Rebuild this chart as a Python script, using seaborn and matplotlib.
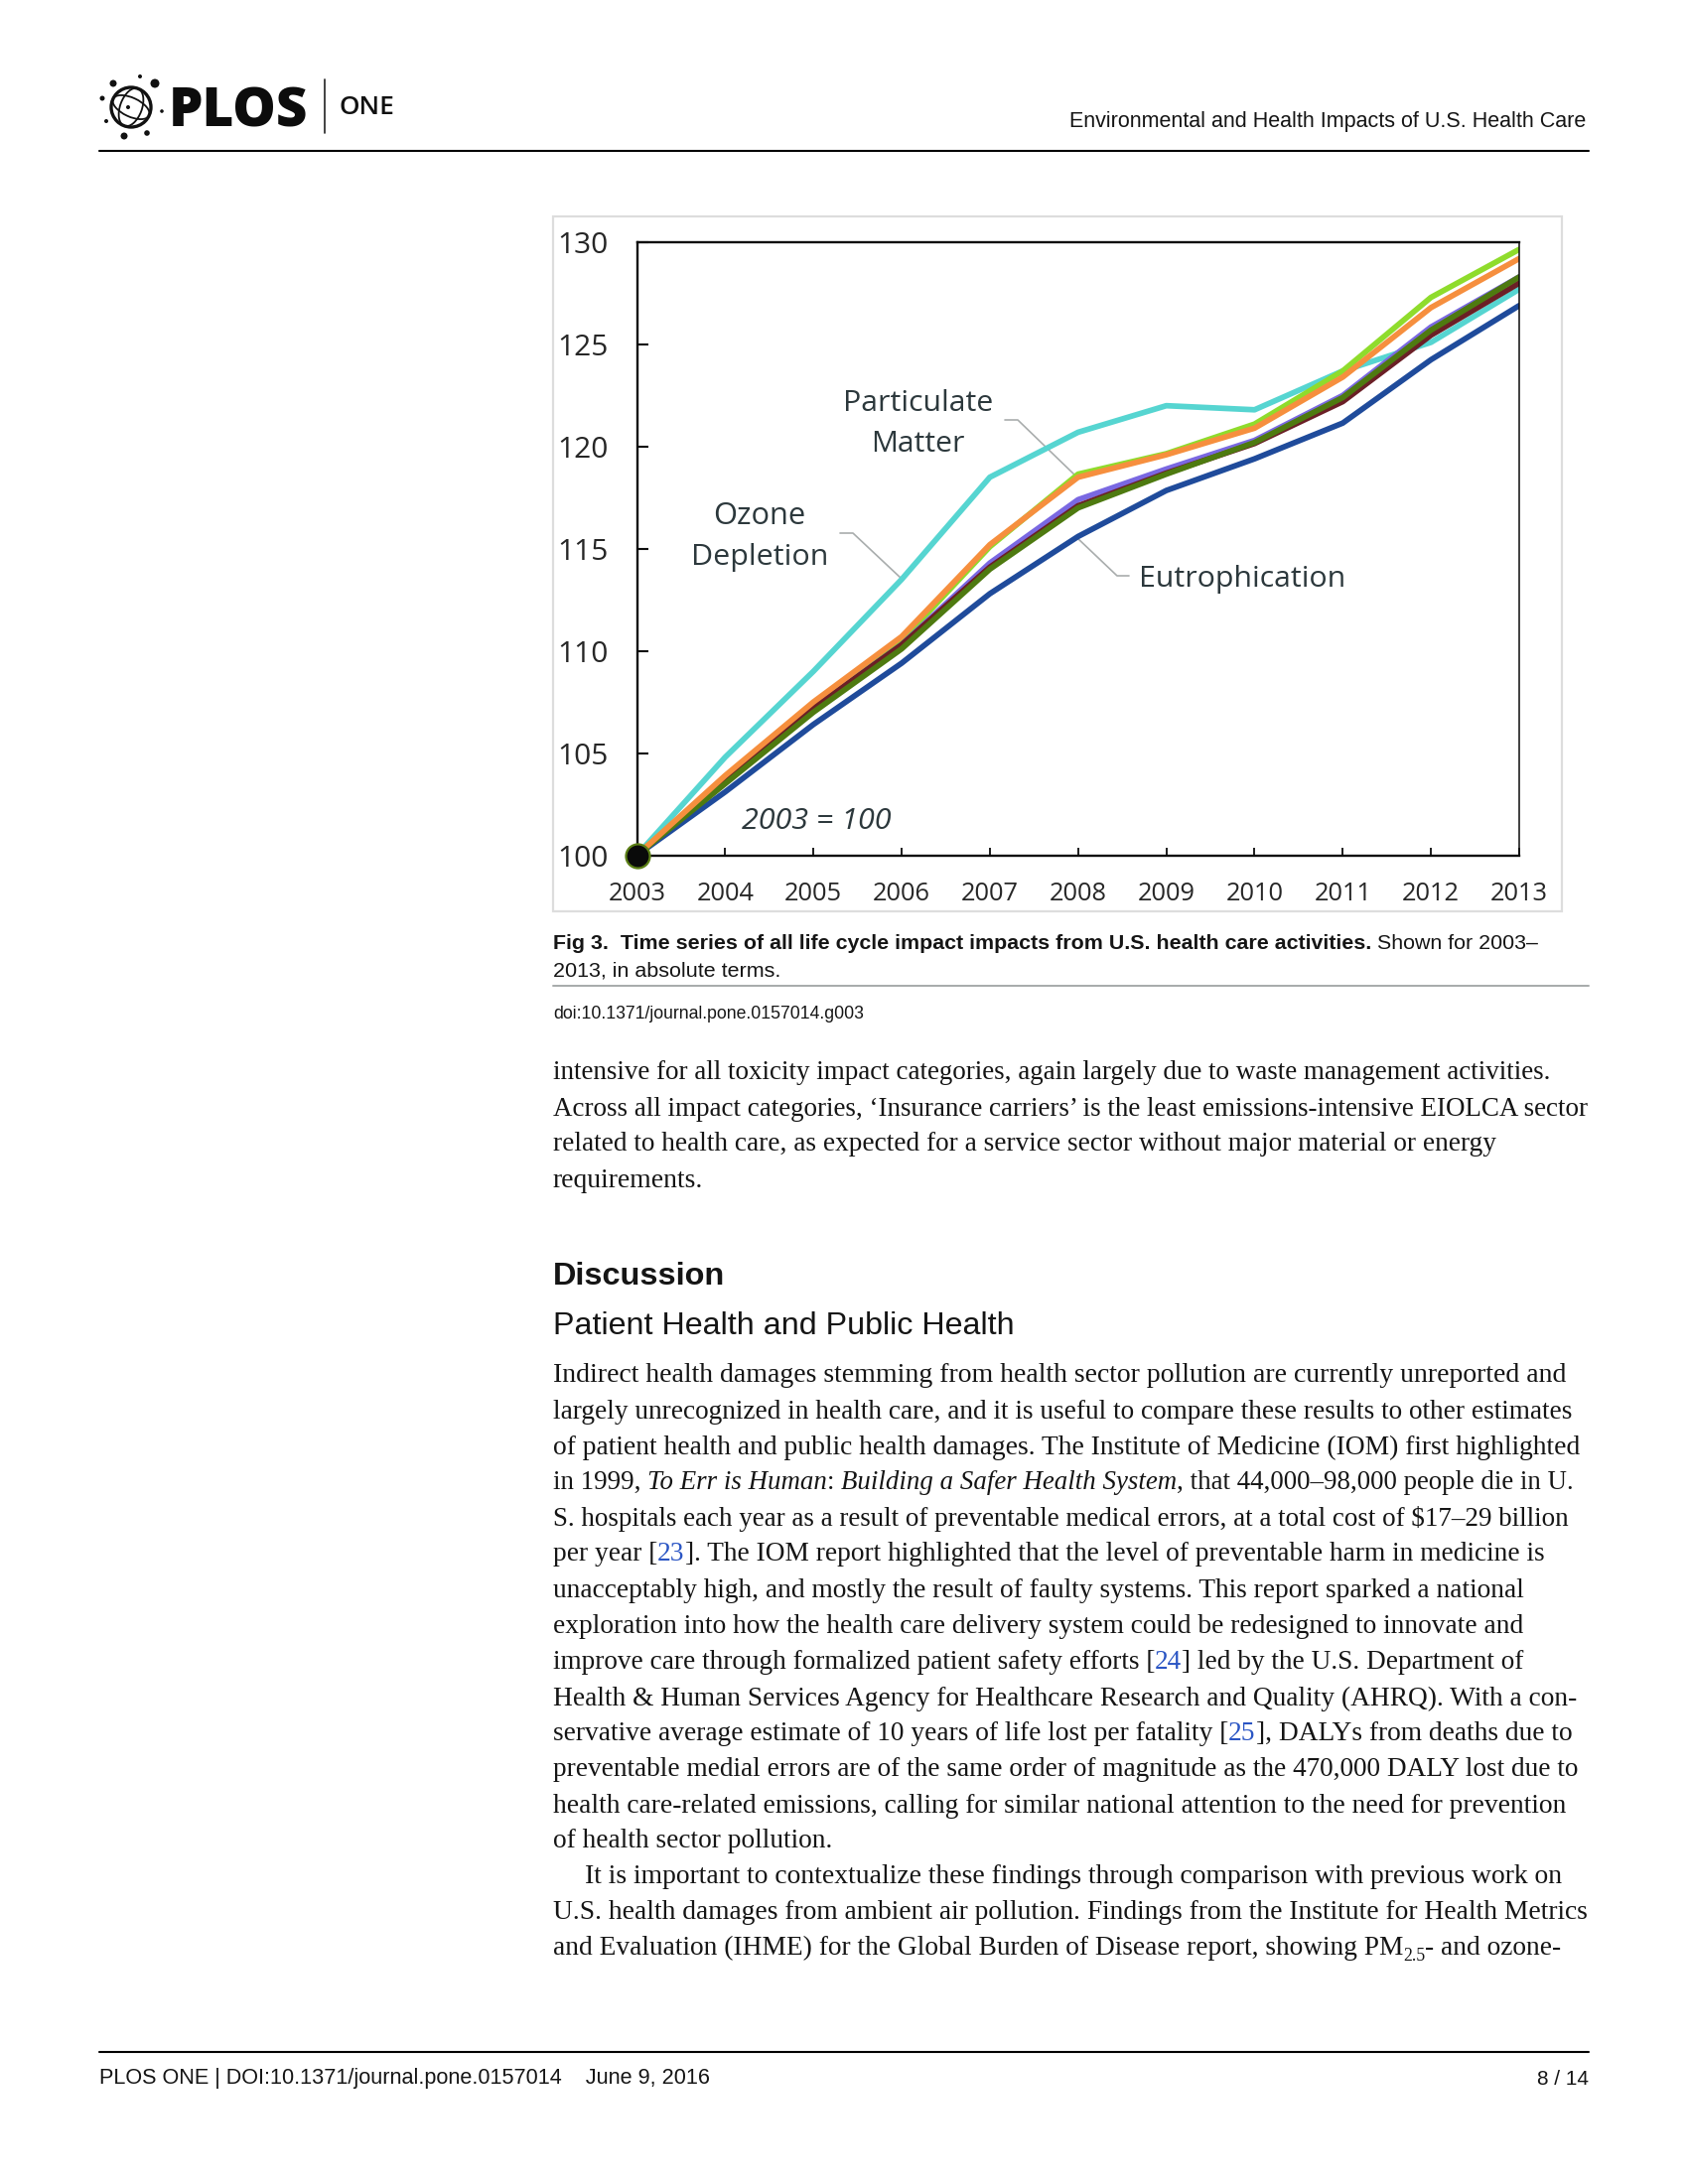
"""
PLOS ONE page 8: Fig 3 time series of life cycle impacts, with the page text around it.
"""

import matplotlib
matplotlib.use("Agg")
import matplotlib.pyplot as plt
import pandas as pd
import seaborn as sns
from matplotlib.patches import Circle, Ellipse, Rectangle

years = [2003, 2004, 2005, 2006, 2007, 2008, 2009, 2010, 2011, 2012, 2013]

ozone = [100, 104.8, 109.0, 113.5, 118.5, 120.7, 122.0, 121.8, 123.7, 125.1, 127.7]
smog = [100, 103.8, 107.4, 110.5, 115.1, 118.65, 119.65, 121.1, 123.7, 127.3, 129.65]
purple_series = [100, 103.6, 107.2, 110.3, 114.3, 117.4, 118.9, 120.3, 122.5, 125.85, 128.3]
maroon_series = [100, 103.6, 107.2, 110.3, 114.1, 117.1, 118.7, 120.15, 122.2, 125.45, 128.0]
eutrophication = [100, 103.1, 106.4, 109.4, 112.8, 115.6, 117.85, 119.4, 121.15, 124.25, 126.9]
olive_series = [100, 103.5, 107.0, 110.1, 114.0, 117.0, 118.65, 120.2, 122.4, 125.7, 128.3]
particulate = [100, 103.9, 107.5, 110.7, 115.2, 118.5, 119.6, 120.9, 123.4, 126.8, 129.2]

series = {
    "Ozone Depletion": ozone,
    "Smog": smog,
    "Purple": purple_series,
    "Maroon": maroon_series,
    "Eutrophication": eutrophication,
    "Olive": olive_series,
    "Particulate Matter": particulate,
}
palette = {
    "Ozone Depletion": "#56d5d1",
    "Smog": "#8fdc2c",
    "Purple": "#7a68e2",
    "Maroon": "#6b1f26",
    "Eutrophication": "#1f4b9b",
    "Olive": "#4e7a10",
    "Particulate Matter": "#f68f3e",
}

y_ticks = [100, 105, 110, 115, 120, 125, 130]

SERIF = "Liberation Serif"
SANS = "Liberation Sans"
CHART = "Open Sans"
BLUE = "#2a55c4"

body_top = [
    (775, 1115, 397, [("intensive for all toxicity impact categories, again largely due to waste management activities.", {})]),
    (801, 1141, 397, [("Across all impact categories, ‘Insurance carriers’ is the least emissions-intensive EIOLCA sector", {})]),
    (826.5, 1072, 397, [("related to health care, as expected for a service sector without major material or energy", {})]),
    (852.5, 505, 397, [("requirements.", {})]),
]
body_main = [
    (992.5, 1124, 397, [("Indirect health damages stemming from health sector pollution are currently unreported and", {})]),
    (1018.5, 1129, 397, [("largely unrecognized in health care, and it is useful to compare these results to other estimates", {})]),
    (1044.5, 1133, 397, [("of patient health and public health damages. The Institute of Medicine (IOM) first highlighted", {})]),
    (1069.5, 1130, 397, [("in 1999, ", {}), ("To Err is Human", {"style": "italic"}), (": ", {}),
                          ("Building a Safer Health System", {"style": "italic"}),
                          (", that 44,000–98,000 people die in U.", {})]),
    (1095.5, 1126, 397, [("S. hospitals each year as a result of preventable medical errors, at a total cost of $17–29 billion", {})]),
    (1121, 1108, 397, [("per year [", {}), ("23", {"color": BLUE}), ("]. The IOM report highlighted that the level of preventable harm in medicine is", {})]),
    (1147, 1093, 397, [("unacceptably high, and mostly the result of faulty systems. This report sparked a national", {})]),
    (1172.5, 1092, 397, [("exploration into how the health care delivery system could be redesigned to innovate and", {})]),
    (1198.5, 1094, 397, [("improve care through formalized patient safety efforts [", {}), ("24", {"color": BLUE}), ("] led by the U.S. Department of", {})]),
    (1224.5, 1130, 397, [("Health & Human Services Agency for Healthcare Research and Quality (AHRQ). With a con-", {})]),
    (1250, 1129, 397, [("servative average estimate of 10 years of life lost per fatality [", {}), ("25", {"color": BLUE}), ("], DALYs from deaths due to", {})]),
    (1275.5, 1133, 397, [("preventable medial errors are of the same order of magnitude as the 470,000 DALY lost due to", {})]),
    (1301.5, 1124, 397, [("health care-related emissions, calling for similar national attention to the need for prevention", {})]),
    (1327, 597, 397, [("of health sector pollution.", {})]),
    (1352.5, 1122, 420, [("It is important to contextualize these findings through comparison with previous work on", {})]),
    (1378, 1139, 397, [("U.S. health damages from ambient air pollution. Findings from the Institute for Health Metrics", {})]),
    (1403.5, 1119, 397, [("and Evaluation (IHME) for the Global Burden of Disease report, showing PM", {}),
                          ("2.5", {"scale": 0.65, "dy": 6}), ("- and ozone-", {})]),
]

SHRINK = 1700 / 1212

sns.set_theme(style="white")
fig = plt.figure(figsize=(17, 22), dpi=100)

# page layer in pixel coordinates, y running down
page = fig.add_axes([0, 0, 1, 1])
page.set_xlim(0, 1700)
page.set_ylim(2200, 0)
page.axis("off")
renderer = fig.canvas.get_renderer()


def put_line(x0, x1, y, segments, size, family=SERIF, color="#151515"):
    """Write text segments on one baseline, sized so the line ends at x1."""
    total = 0.0
    for text, opts in segments:
        probe = page.text(0, 0, text, fontsize=size * opts.get("scale", 1), family=family,
                          style=opts.get("style", "normal"), weight=opts.get("weight", "normal"))
        # trailing spaces are not measured reliably, so pad with the width of a bar
        probe.set_text(text + "|")
        w = probe.get_window_extent(renderer).width
        probe.set_text("|")
        w -= probe.get_window_extent(renderer).width
        probe.remove()
        total += w
    fit = size * (x1 - x0) / total
    x = x0
    for text, opts in segments:
        t = page.text(x, y + opts.get("dy", 0), text, fontsize=fit * opts.get("scale", 1), family=family,
                      style=opts.get("style", "normal"), weight=opts.get("weight", "normal"),
                      color=opts.get("color", color), va="baseline", ha="left")
        t.set_text(text + "|")
        w = t.get_window_extent(renderer).width
        t.set_text("|")
        w -= t.get_window_extent(renderer).width
        t.set_text(text)
        x += w


# header
page.plot([100, 1600], [151.5, 151.5], color="black", lw=1.5)
put_line(1077, 1601, 128, [("Environmental and Health Impacts of U.S. Health Care", {})], 16, SANS)
put_line(170, 310, 128, [("PLOS", {"weight": "extra bold"})], 40, CHART, "#0c0c0c")
put_line(342, 398, 115, [("ONE", {"weight": "semibold"})], 14, CHART, "#111111")
page.plot([327, 327], [80, 134], color="#222222", lw=1.2)

# logo
page.add_patch(Circle((132, 108), 20, fc="none", ec="#111111", lw=2.4))
page.add_patch(Ellipse((132, 108), 40, 19, angle=25, fc="none", ec="#111111", lw=1.3))
page.add_patch(Ellipse((132, 108), 40, 22, angle=-70, fc="none", ec="#111111", lw=1.3))
page.add_patch(Circle((129, 108), 2, fc="#111111", ec="none"))
for cx, cy, r in [(114, 84, 3.5), (141, 77, 2), (156, 84, 4.5), (103, 99, 2.5), (163, 112, 1.8),
                  (107, 122, 2), (125, 137, 3.5), (148, 134, 2.8)]:
    page.add_patch(Circle((cx, cy), r, fc="#111111", ec="none"))

# figure frame
page.add_patch(Rectangle((557, 218), 1016, 700, fc="none", ec="#dddddd", lw=1.6))

# leader lines
for xs, ys in [([1012, 1025, 1084], [423, 423, 480]),
               ([846, 859, 908], [537, 537, 583]),
               ([1084, 1125, 1137], [541, 580, 580])]:
    page.plot(xs, ys, color="#a9adad", lw=1.2, zorder=4)

LABEL = "#2c383c"
put_line(849, 1000, 414, [("Particulate", {})], 22, CHART, LABEL)
put_line(877, 971, 455, [("Matter", {})], 22, CHART, LABEL)
put_line(718, 811, 528, [("Ozone", {})], 22, CHART, LABEL)
put_line(696, 834, 569, [("Depletion", {})], 22, CHART, LABEL)
put_line(1147, 1355, 591, [("Eutrophication", {})], 22, CHART, LABEL)
put_line(747, 897, 835, [("2003 = 100", {"style": "italic"})], 22, CHART, LABEL)

# caption
put_line(557, 1546, 956.5, [("Fig 3.  Time series of all life cycle impact impacts from U.S. health care activities.", {"weight": "bold"}),
                            (" Shown for 2003–", {})], 15.5, SANS)
put_line(557, 786, 983.5, [("2013, in absolute terms.", {})], 15.5, SANS)
page.plot([557, 1600], [992.5, 992.5], color="#a6aaaa", lw=1.4)
put_line(557, 870, 1026, [("doi:10.1371/journal.pone.0157014.g003", {})], 15, SANS)

# body text
for y, right, left, segs in body_top + body_main:
    put_line(left * SHRINK, right * SHRINK, y * SHRINK, segs, 20)
put_line(557, 731, 1293.5, [("Discussion", {"weight": "bold"})], 24, SANS)
put_line(557, 1023, 1343.5, [("Patient Health and Public Health", {})], 23, SANS)

# footer
page.plot([100, 1600], [2066.5, 2066.5], color="black", lw=1.5)
put_line(100, 716, 2099.5, [("PLOS ONE | DOI:10.1371/journal.pone.0157014    June 9, 2016", {})], 16, SANS)
put_line(1548, 1600, 2099.5, [("8 / 14", {})], 16, SANS)

# chart
ax = fig.add_axes([641.5 / 1700, 1 - 861.5 / 2200, (1530 - 641.5) / 1700, (861.5 - 244) / 2200])
ax.patch.set_alpha(0)
df = pd.DataFrame(series, index=years).rename_axis("year").reset_index()
long_df = df.melt(id_vars="year", var_name="category", value_name="index_value")
sns.lineplot(data=long_df, x="year", y="index_value", hue="category", hue_order=list(series),
             palette=palette, linewidth=4.1, legend=False, errorbar=None, ax=ax)
start = long_df[long_df["year"] == years[0]].head(1)
sns.scatterplot(data=start, x="year", y="index_value", color="#0a0a0a", s=300, edgecolor="#5b7f16",
                linewidth=1.6, clip_on=False, zorder=6, legend=False, ax=ax)

ax.set_xlim(years[0], years[-1])
ax.set_ylim(y_ticks[0], y_ticks[-1])
ax.set_xticks(years)
ax.set_yticks(y_ticks)
ax.set_xlabel("")
ax.set_ylabel("")
for spine in ax.spines.values():
    spine.set_color("#0c0c0c")
    spine.set_linewidth(1.7)
ax.spines["right"].set_linewidth(1.1)
ax.tick_params(axis="y", direction="in", length=8, width=1.5, color="#0c0c0c", left=True, pad=21,
               labelsize=21.5, labelcolor="#262626")
ax.tick_params(axis="x", direction="in", length=6, width=1.3, color="#0c0c0c", bottom=True, pad=19,
               labelsize=18.3, labelcolor="#262626")
for label in ax.get_xticklabels() + ax.get_yticklabels():
    label.set_family(CHART)

fig.savefig("out.png", dpi=100)
plt.close(fig)
